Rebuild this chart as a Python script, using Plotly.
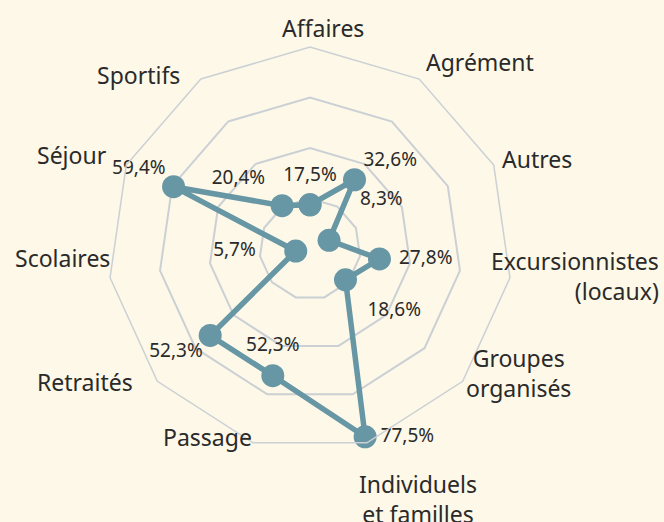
import plotly.graph_objects as go

categories = ["Affaires", "Agrément", "Autres", "Excursionnistes (locaux)", "Groupes organisés",
              "Individuels et familles", "Passage", "Retraités", "Scolaires", "Séjour", "Sportifs"]
values = [17.5, 32.6, 8.3, 27.8, 18.6, 77.5, 52.3, 52.3, 5.7, 59.4, 20.4]

# value-label styling: direction and gap (invisible marker size) for each label
label_positions = ["top center", "top right", "top right", "middle right", "bottom right",
                   "middle right", "top center", "bottom left", "middle left", "top left", "top left"]
label_gaps = [29.6, 12.8, 48.0, 29.6, 33.6, 23.2, 29.6, 10.4, 62.4, 11.2, 25.6]

# category label layout (pixel positions in a 664x522 canvas)
cat_label_text = ["Affaires", "Agrément", "Autres", "Excursionnistes<br>(locaux)", "Groupes<br>organisés",
                  "Individuels<br>et familles", "Passage", "Retraités", "Scolaires", "Séjour", "Sportifs"]
cat_label_px = [(323, 28), (480, 62), (537, 159), (661, 276), (518, 373),
                (418, 499), (207, 437), (85, 382), (62, 258), (72, 155), (138, 75)]
cat_label_align = ["center", "center", "center", "right", "center",
                   "center", "center", "center", "center", "center", "center"]

W, H = 664, 522
BG = "#fdf8e8"
LINE = "#6796a4"
GRID = "#cbd0d4"
TXT = "#2a2a2a"
FONT = "Noto Sans"

texts = [f"{v:.1f}".replace(".", ",") + "%" for v in values]

fig = go.Figure()
fig.add_trace(go.Scatterpolar(
    r=values + values[:1],
    theta=categories + categories[:1],
    mode="lines+markers",
    line=dict(color=LINE, width=5.5),
    marker=dict(color=LINE, size=23, line=dict(width=0)),
    cliponaxis=False,
    hoverinfo="skip",
))
fig.add_trace(go.Scatterpolar(
    r=values,
    theta=categories,
    mode="markers+text",
    text=texts,
    textposition=label_positions,
    textfont=dict(family=FONT, size=19, color=TXT),
    marker=dict(color="rgba(0,0,0,0)", size=label_gaps, line=dict(width=0, color="rgba(0,0,0,0)")),
    cliponaxis=False,
    hoverinfo="skip",
))

annotations = []
for t, (px, py), al in zip(cat_label_text, cat_label_px, cat_label_align):
    xanchor = "right" if al == "right" else "center"
    annotations.append(dict(
        text=t, x=px / W, y=1 - py / H, xref="paper", yref="paper",
        xanchor=xanchor, yanchor="middle", align=al, showarrow=False,
        font=dict(family=FONT, size=23, color=TXT),
    ))

fig.update_layout(
    width=W, height=H,
    margin=dict(l=0, r=0, t=0, b=0),
    paper_bgcolor=BG, plot_bgcolor=BG,
    showlegend=False,
    annotations=annotations,
    polar=dict(
        bgcolor=BG,
        domain=dict(x=[108 / W, 512 / W], y=[71 / H, 475 / H]),
        gridshape="linear",
        radialaxis=dict(range=[0, 80], dtick=20, showticklabels=False, ticks="",
                        showline=False, gridcolor=GRID, gridwidth=1.5),
        angularaxis=dict(direction="clockwise", rotation=90, showgrid=False,
                         showticklabels=False, ticks="", showline=True,
                         linecolor=GRID, linewidth=1.5),
    ),
)

fig.write_html("out.html")
